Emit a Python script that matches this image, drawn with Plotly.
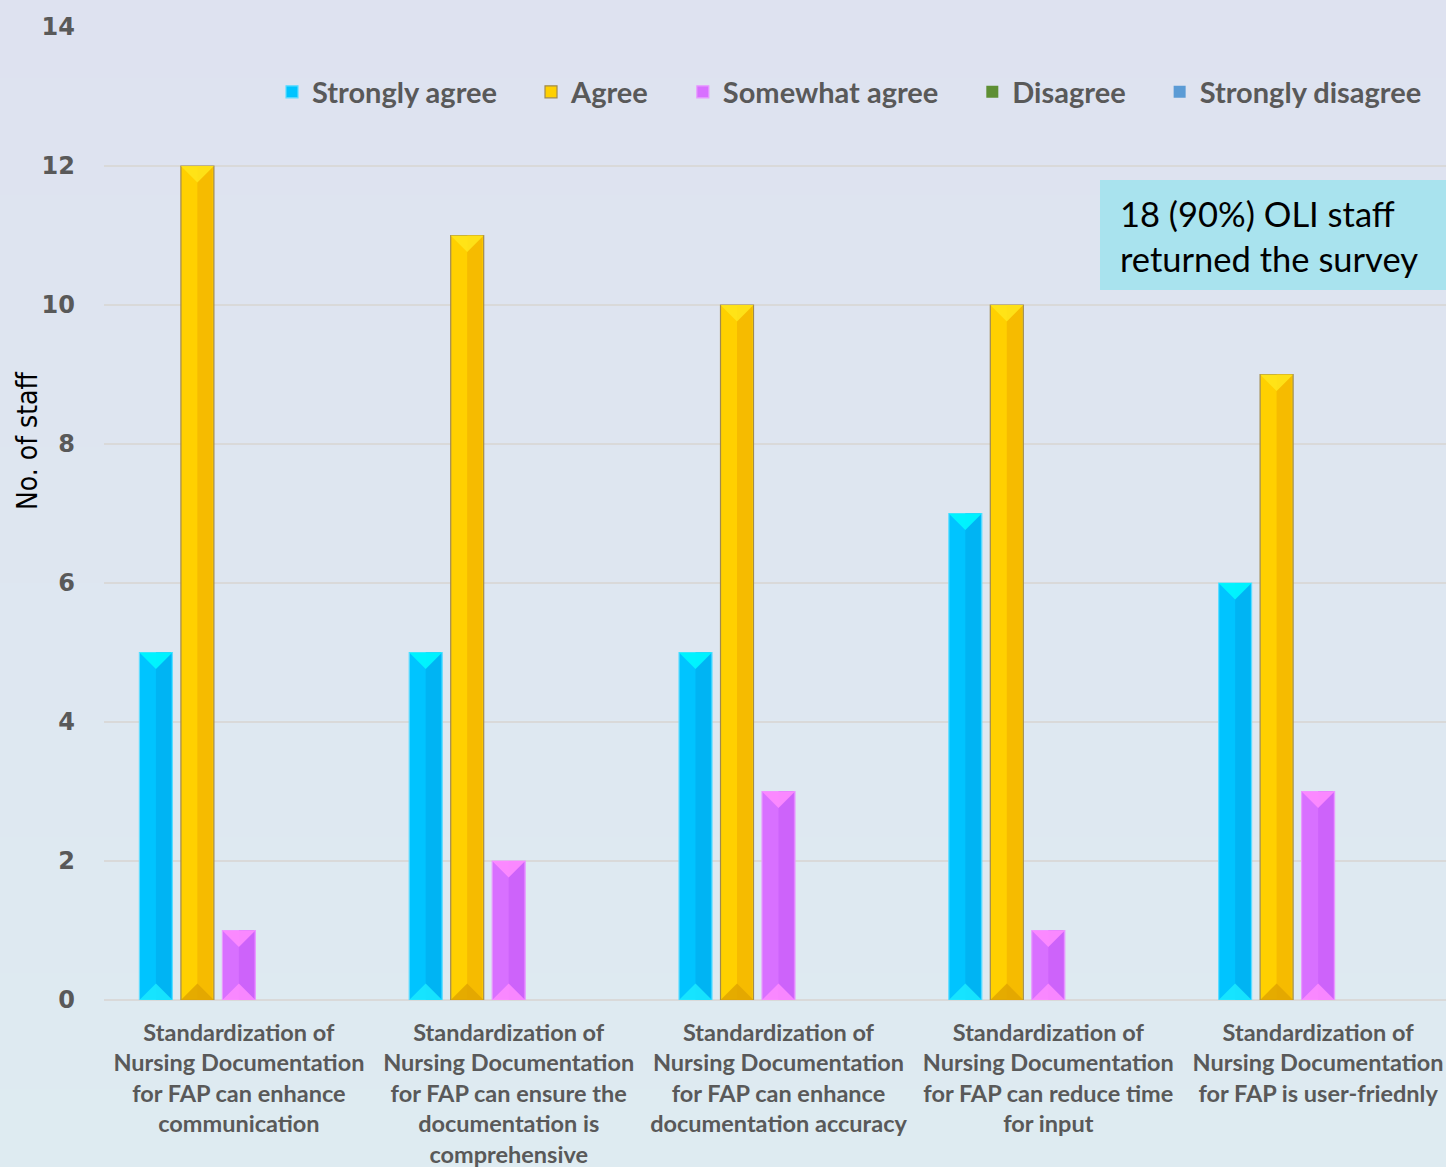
import plotly.graph_objects as go

categories = [
    "Standardization of<br>Nursing Documentation<br>for FAP can enhance<br>communication",
    "Standardization of<br>Nursing Documentation<br>for FAP can ensure the<br>documentation is<br>comprehensive",
    "Standardization of<br>Nursing Documentation<br>for FAP can enhance<br>documentation accuracy",
    "Standardization of<br>Nursing Documentation<br>for FAP can reduce time<br>for input",
    "Standardization of<br>Nursing Documentation<br>for FAP is user-friednly",
]
series_names = ["Strongly agree", "Agree", "Somewhat agree", "Disagree", "Strongly disagree"]
strongly_agree = [5, 5, 5, 7, 6]
agree = [12, 11, 10, 10, 9]
somewhat_agree = [1, 2, 3, 1, 3]
disagree = [0, 0, 0, 0, 0]
strongly_disagree = [0, 0, 0, 0, 0]
y_ticks = [0, 2, 4, 6, 8, 10, 12, 14]
y_title = "No. of staff"
note_text = "18 (90%) OLI staff<br>returned the survey"

series_values = [strongly_agree, agree, somewhat_agree, disagree, strongly_disagree]
base_colors = ["#00C4FF", "#FFD000", "#D870FF", "#5E8F34", "#5B9BD5"]
shade_colors = ["#00B2F2", "#F5B800", "#CC62FA", "#4A7028", "#5B9BD5"]
top_colors = ["#00F8FF", "#FFE41A", "#FF8CFF", "#8CC850", "#5B9BD5"]
bottom_colors = ["#1AEAFF", "#E0A400", "#FF8CFF", "#4A7028", "#5B9BD5"]
edge_colors = ["#5FDCFF", "#A08A50", "#E89AFF", "#3E6020", "#5B9BD5"]

x_idx = list(range(len(categories)))
step = 0.1538
bw = 0.1223
cap = 0.237

W, H = 1446, 1167
ML, MT, PW, PH = 104, 27, 1342, 973
x_max = -0.5 + 5 * 1342 / 1349

fig = go.Figure()

# background gradient
top_rgb = (222, 226, 240)
bot_rgb = (222, 235, 241)
nb = 60
for k in range(nb):
    t = k / (nb - 1)
    c = tuple(round(top_rgb[j] + (bot_rgb[j] - top_rgb[j]) * t) for j in range(3))
    fig.add_shape(type="rect", xref="paper", yref="paper",
                  x0=-ML / PW, x1=1.0,
                  y0=1 + MT / PH - (k + 1) * (H / nb) / PH - 0.002,
                  y1=1 + MT / PH - k * (H / nb) / PH,
                  fillcolor="rgb(%d,%d,%d)" % c, line_width=0, layer="below")

n_series = len(series_names)
for i, (name, vals) in enumerate(zip(series_names, series_values)):
    off = (i - 2) * step - bw / 2
    lw = 1.2 if any(v > 0 for v in vals) else 0
    label = name if i == n_series - 1 else name + "\u2002\u2002"
    fig.add_trace(go.Bar(
        name=label, x=x_idx, y=vals, width=bw, offset=off,
        marker=dict(color=base_colors[i], line=dict(color=edge_colors[i], width=lw)),
    ))
    for xi, v in zip(x_idx, vals):
        if v <= 0:
            continue
        left = xi + off
        right = left + bw
        mid = left + bw / 2
        fig.add_shape(type="rect", xref="x", yref="y",
                      x0=mid, x1=right - bw * 0.04, y0=0, y1=v,
                      fillcolor=shade_colors[i], line_width=0, opacity=0.9)
        fig.add_shape(type="path", xref="x", yref="y",
                      path=f"M {left},{v} L {right},{v} L {mid},{v - cap} Z",
                      fillcolor=top_colors[i], line_width=0, opacity=0.9)
        fig.add_shape(type="path", xref="x", yref="y",
                      path=f"M {left},0 L {right},0 L {mid},{cap} Z",
                      fillcolor=bottom_colors[i], line_width=0, opacity=0.85)

# note box
fig.add_shape(type="rect", xref="paper", yref="paper",
              x0=(1100 - ML) / PW, x1=1.0,
              y0=1 - (290 - MT) / PH, y1=1 - (180 - MT) / PH,
              fillcolor="#A9E3EE", line_width=0)
fig.add_annotation(xref="paper", yref="paper",
                   x=(1118 - ML) / PW, y=1 - (236 - MT) / PH,
                   xanchor="left", yanchor="middle", align="left", showarrow=False,
                   text=note_text,
                   font=dict(family="Lato, Open Sans, sans-serif", size=34.5, color="#000000"))

# y axis title (placed off-centre like the reference)
fig.add_annotation(xref="paper", yref="paper",
                   x=(27 - ML) / PW, y=1 - (441 - MT) / PH,
                   xanchor="center", yanchor="middle", textangle=-90, showarrow=False,
                   text=y_title,
                   font=dict(family="DejaVu Sans Condensed, Liberation Sans Narrow, sans-serif",
                             size=28, color="#000000"))

fig.update_layout(
    width=W, height=H,
    margin=dict(l=ML, r=W - ML - PW, t=MT, b=H - MT - PH),
    paper_bgcolor="rgba(0,0,0,0)",
    plot_bgcolor="rgba(0,0,0,0)",
    barmode="overlay",
    showlegend=True,
    legend=dict(orientation="h", x=(272 - ML) / PW, y=1 - (92 - MT) / PH,
                xanchor="left", yanchor="middle",
                font=dict(family="Lato, Open Sans, sans-serif", size=29, color="#595959", weight=700),
                bgcolor="rgba(0,0,0,0)", traceorder="normal"),
    xaxis=dict(range=[-0.5, x_max], tickvals=x_idx, ticktext=categories,
               showgrid=False, zeroline=False, showline=False, ticks="",
               tickfont=dict(family="Lato, Open Sans, sans-serif", size=23.5, color="#595959", weight=700),
               ticklabelstandoff=16),
    yaxis=dict(range=[0, 14], tickvals=y_ticks, ticktext=[str(t) for t in y_ticks],
               showgrid=True, gridcolor="#D9D9D9", gridwidth=1.5,
               zeroline=True, zerolinecolor="#D9D9D9", zerolinewidth=1.5,
               showline=False, ticks="",
               tickfont=dict(family="DejaVu Sans, sans-serif", size=24, color="#595959", weight=700),
               ticklabelstandoff=28),
)

fig.write_html("out.html", config={"displayModeBar": False},
               post_script="document.body.style.margin='0';document.body.style.overflow='hidden';")
